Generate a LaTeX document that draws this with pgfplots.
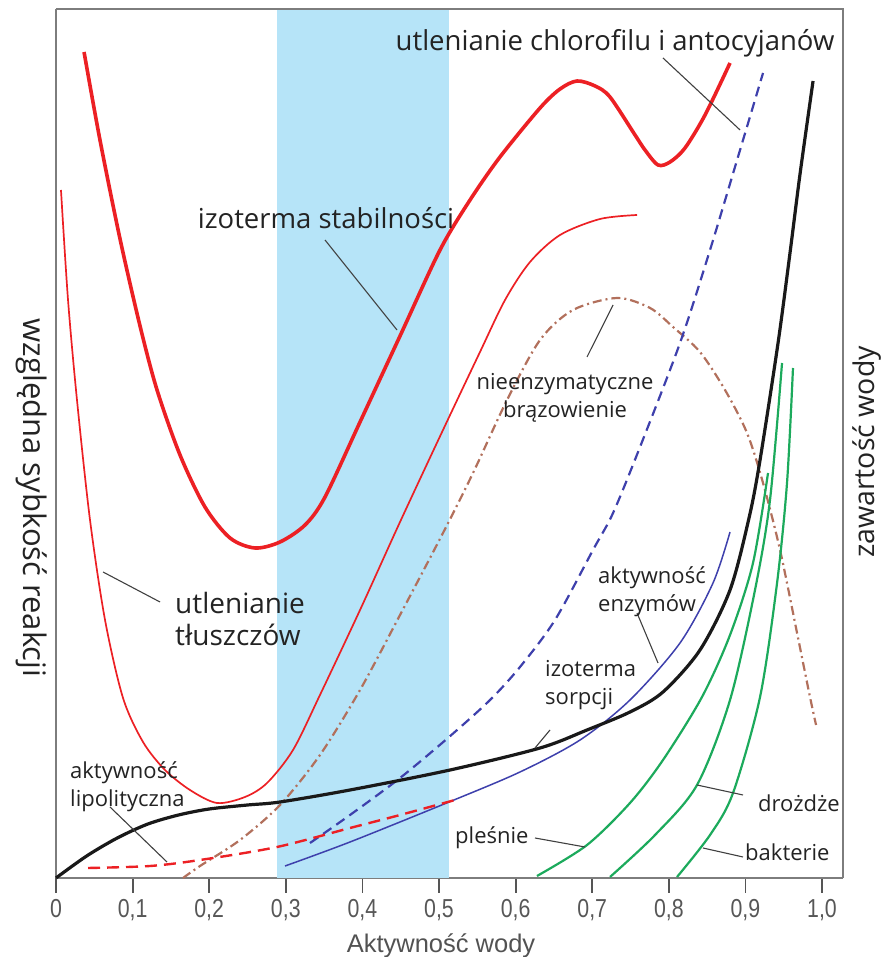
\documentclass[border=0pt]{standalone}
\usepackage{fontspec}
\setmainfont{Open Sans}
\newfontfamily\tickfont[FakeStretch=0.82]{Liberation Sans}
\newfontfamily\labfont{Liberation Sans}
\usepackage{pgfplots}
\pgfplotsset{compat=1.18}
\definecolor{bandblue}{RGB}{182,228,248}
\definecolor{cred}{RGB}{236,32,36}
\definecolor{cblue}{RGB}{62,64,172}
\definecolor{cbrown}{RGB}{178,112,92}
\definecolor{cgreen}{RGB}{28,170,92}
\definecolor{ctext}{RGB}{35,35,35}
\definecolor{cframe}{RGB}{125,125,125}
\definecolor{ctick}{RGB}{85,85,85}
\tikzset{
  lbl/.style={font=\fontsize{27.5}{32}\selectfont, text=ctext, inner sep=0pt},
  lblm/.style={font=\fontsize{22}{28}\selectfont, text=ctext, inner sep=0pt, align=left},
  leader/.style={draw=black!75, line width=1.1pt},
}
\begin{document}
\begin{tikzpicture}
\useasboundingbox (-56pt,-79pt) rectangle (833pt,878pt);
\begin{axis}[at={(0,0)}, anchor=origin, scale only axis,
  width=787pt, height=869pt,
  xmin=0, xmax=1.0274, ymin=0, ymax=869, clip=false,
  axis x line*=bottom, axis y line*=left,
  axis line style={-, draw=cframe, line width=1.8pt},
  ytick=\empty,
  xtick={0,0.1,0.2,0.3,0.4,0.5,0.6,0.7,0.8,0.9,1.0},
  xticklabels={0,{0,1},{0,2},{0,3},{0,4},{0,5},{0,6},{0,7},{0,8},{0,9},{1,0}},
  xtick align=outside, major tick length=15pt,
  tick style={draw=ctick, line width=1.8pt},
  xticklabel style={font=\tickfont\fontsize{26}{26}\selectfont, text=black!66, yshift=-3pt},
]
% band
\addplot[draw=none, fill=bandblue] coordinates {(0.2885,0) (0.5131,0) (0.5131,869) (0.2885,869)} -- cycle;
% frame top/right
\draw[cframe, line width=1.5pt] (axis cs:0,869) -- (axis cs:1.0274,869) -- (axis cs:1.0274,0);

% thin red: utlenianie tluszczow
\addplot[cred, line width=1.7pt, smooth] coordinates {
(0.0065,688) (0.0157,578) (0.0274,478) (0.0444,358) (0.0640,258) (0.0875,180)
(0.1136,136) (0.1423,108) (0.1749,88) (0.2102,75) (0.2467,81) (0.2755,95)
(0.3094,128) (0.3446,183) (0.3969,268) (0.4491,356) (0.5052,448) (0.5535,526)
(0.5862,578) (0.6188,616) (0.6580,643) (0.7102,659) (0.7585,663)};

% thick red: izoterma stabilnosci
\addplot[cred, line width=3.6pt, smooth] coordinates {
(0.0366,826) (0.0574,738) (0.0836,639) (0.1097,552) (0.1319,488) (0.1619,423)
(0.1945,371) (0.2272,340) (0.2598,330) (0.2924,336) (0.3251,353) (0.3512,381)
(0.3969,456) (0.4491,542) (0.5013,628) (0.5405,678) (0.5796,721) (0.6319,770)
(0.6580,789) (0.6802,797) (0.7037,792) (0.7232,781) (0.7559,743) (0.7689,728)
(0.7859,713) (0.8016,716) (0.8211,730) (0.8473,763) (0.8799,815)};

% brown dash-dot: nieenzymatyczne brazowienie
\addplot[cbrown, line width=2.2pt, smooth, dash pattern=on 9pt off 4pt on 2pt off 4pt] coordinates {
(0.1658,0) (0.1880,12) (0.2402,38) (0.2924,73) (0.3446,123) (0.3969,188)
(0.4491,263) (0.5052,345) (0.5444,405) (0.5888,478) (0.6319,538) (0.6749,568)
(0.7324,580) (0.7755,570) (0.8055,551) (0.8407,526) (0.8734,488) (0.9021,445)
(0.9230,395) (0.9452,328) (0.9674,245) (0.9843,181) (0.9922,153)};

% blue dashed: utlenianie chlorofilu
\addplot[cblue, line width=2.2pt, smooth, dash pattern=on 10pt off 6pt] coordinates {
(0.3316,35) (0.3838,63) (0.4491,100) (0.5131,141) (0.5666,178) (0.6057,211)
(0.6514,258) (0.7010,328) (0.7272,365) (0.7624,431) (0.8146,535) (0.8538,628)
(0.8930,728) (0.9230,805)};

% blue solid: aktywnosc enzymow
\addplot[cblue, line width=1.5pt, smooth] coordinates {
(0.2990,12) (0.3838,36) (0.5131,76) (0.6057,106) (0.6841,138) (0.7493,178)
(0.8146,235) (0.8577,295) (0.8799,346)};

% red dashed: aktywnosc lipolityczna
\addplot[cred, line width=2.4pt, smooth, dash pattern=on 12pt off 7pt] coordinates {
(0.0418,10) (0.1227,12) (0.1880,18) (0.2885,31) (0.3838,50) (0.4491,63) (0.5209,78)};

% black: izoterma sorpcji
\addplot[black!90, line width=3.2pt, smooth] coordinates {
(0,0) (0.04,22) (0.08,40) (0.12,54) (0.16,63) (0.20,69) (0.25,73) (0.2924,76)
(0.3838,88) (0.5144,108) (0.6319,130) (0.6932,148) (0.7493,166) (0.7924,186)
(0.8407,228) (0.8799,288) (0.9047,360) (0.9191,418) (0.9426,535) (0.9582,625)
(0.9713,704) (0.9883,797)};

% green: plesnie, drozdze, bakterie
\addplot[cgreen, line width=2.2pt, smooth] coordinates {
(0.6279,2) (0.6932,33) (0.7493,75) (0.7924,118) (0.8433,181) (0.8799,243)
(0.9099,315) (0.9295,405)};
\addplot[cgreen, line width=2.2pt, smooth] coordinates {
(0.7232,1) (0.7820,43) (0.8368,93) (0.8799,178) (0.9125,288) (0.9321,378) (0.9478,515)};
\addplot[cgreen, line width=2.2pt, smooth] coordinates {
(0.8107,1) (0.8538,43) (0.8838,85) (0.9191,181) (0.9413,295) (0.9543,395) (0.9621,510)};

% leaders
\draw[leader] (axis cs:0.7924,820) -- (axis cs:0.8930,748);
\draw[leader] (axis cs:0.3512,638) -- (axis cs:0.4452,548);
\draw[leader] (axis cs:0.7272,573) -- (axis cs:0.6932,521);
\draw[leader] (axis cs:0.0614,306) -- (axis cs:0.1358,276);
\draw[leader] (axis cs:0.7585,265) -- (axis cs:0.7859,215);
\draw[leader] (axis cs:0.6449,148) -- (axis cs:0.6253,130);
\draw[leader] (axis cs:0.0705,71) -- (axis cs:0.1449,16);
\draw[leader] (axis cs:0.6253,40) -- (axis cs:0.6906,31);
\draw[leader] (axis cs:0.8368,93) -- (axis cs:0.8969,83);
\draw[leader] (axis cs:0.8446,30) -- (axis cs:0.8969,21);

% labels
\node[lbl] at (axis cs:0.7298,835) {utlenianie chlorofilu i antocyjanów};
\node[lbl] at (axis cs:0.3525,660) {izoterma stabilności};
\node[lblm, align=center] at (axis cs:0.6645,480) {nieenzymatyczne\\brązowienie};
\node[lblm, font=\fontsize{28}{32}\selectfont, anchor=west] at (axis cs:0.1554,259) {utlenianie\\tłuszczów};
\node[lblm, anchor=west] at (axis cs:0.7076,286) {aktywność\\enzymów};
\node[lblm, anchor=west] at (axis cs:0.6384,193) {izoterma\\sorpcji};
\node[lblm, anchor=west] at (axis cs:0.0183,91) {aktywność\\lipolityczna};
\node[lblm, anchor=west] at (axis cs:0.5209,40) {pleśnie};
\node[lblm, anchor=west] at (axis cs:0.9164,75) {drożdże};
\node[lblm, anchor=west] at (axis cs:0.8995,26) {bakterie};
\node[lbl, font=\fontsize{31}{34}\selectfont, rotate=-90] at (axis cs:-0.0313,380) {względna sybkość reakcji};
\node[lbl, font=\fontsize{28.5}{32}\selectfont, rotate=90] at (axis cs:1.0587,426) {zawartość wody};
\node[font=\labfont\fontsize{25.5}{26}\selectfont, text=black!68, inner sep=0pt, anchor=base] at (axis cs:0.5026,-74) {Aktywność wody};
\end{axis}
\end{tikzpicture}
\end{document}
